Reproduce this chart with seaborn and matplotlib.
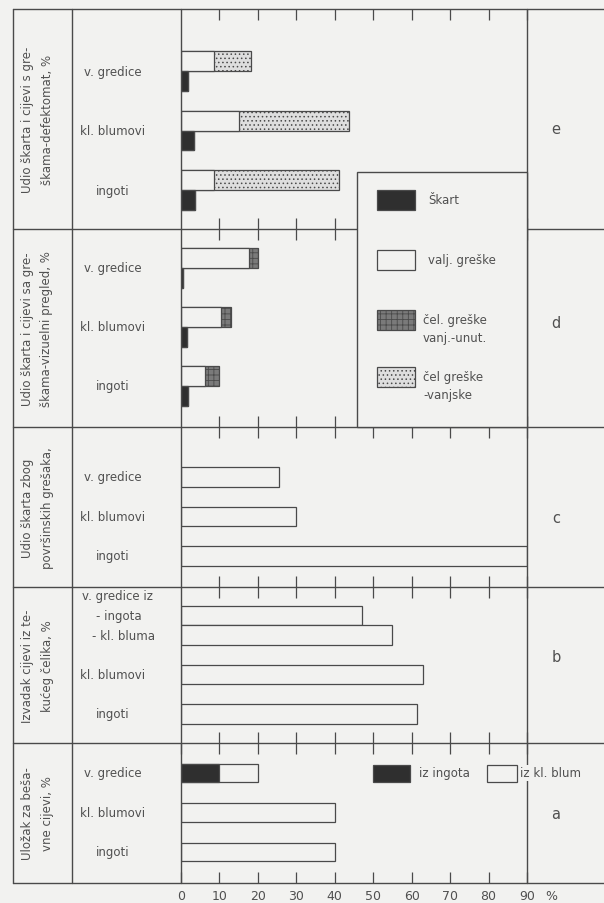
import matplotlib
matplotlib.use("Agg")
import matplotlib.pyplot as plt
import matplotlib.transforms as mtrans
from matplotlib.patches import Rectangle
import pandas as pd
import seaborn as sns

# --- data -----------------------------------------------------------------
cats = ["v. gredice", "kl. blumovi", "ingoti"]

# e) defektomat: valjacke greske + celicanske (vanjske) greske, skart
e_valj = [8.7, 15.0, 8.7]
e_vanjske = [9.5, 28.7, 32.3]
e_skart = [1.9, 3.5, 3.6]

# d) vizuelni pregled: valjacke greske + celicanske (vanj.-unut.), skart
d_valj = [17.6, 10.4, 6.3]
d_unut = [2.5, 2.6, 3.7]
d_skart = [0.6, 1.5, 1.7]

# c) skart zbog povrsinskih gresaka
c_skart = [25.5, 30.0, 90.0]

# b) izvadak cijevi iz tekuceg celika
b_labels = ["v. gredice iz ingota", "v. gredice iz kl. bluma", "kl. blumovi", "ingoti"]
b_izvadak = [47.0, 55.0, 63.0, 61.5]

# a) ulozak za besavne cijevi
a_ulozak = [20.0, 40.0, 40.0]
a_iz_ingota = [10.0]          # samo v. gredice

x_ticks = list(range(0, 100, 10))

# --- style ----------------------------------------------------------------
sns.set_style("white")
plt.rcParams["font.family"] = ["DejaVu Sans"]
plt.rcParams["hatch.linewidth"] = 0.6

BG = "#f2f2f0"
LINE = "#4a4a4a"
TXT = "#505050"
DARK = "#2f2f2f"
GRID_FACE = "#7a7a7a"
DOT_FACE = "#dedede"
FS = 8.5

W, H = 604, 904
X0, X_LBL, X_PLOT, X_END = 13, 72, 181, 527
bounds = [10, 230, 428, 588, 744, 884]

fig = plt.figure(figsize=(W / 100, H / 100), dpi=100, facecolor=BG)


def panel_ax(top, bottom):
    ax = fig.add_axes([X_PLOT / W, 1 - bottom / H, (X_END - X_PLOT) / W, (bottom - top) / H])
    return ax


def finish(ax, top, bottom, first, step, labels=False):
    ax.set_ylim((bottom - first) / step, (top - first) / step)
    ax.set_xlim(0, 90)
    ax.set_facecolor("none")
    ax.set_xlabel("")
    ax.set_ylabel("")
    ax.set_yticks([])
    for s in ax.spines.values():
        s.set_visible(False)
    ax.set_xticks(x_ticks if labels else x_ticks[1:])
    ax.tick_params(axis="x", direction="in", top=True, bottom=True, length=8,
                   width=0.9, color=LINE, labelbottom=labels, labelsize=9,
                   labelcolor=TXT, pad=4)


def stacked_pair(ax, base, extra, skart, face, hatch):
    total = [b + x for b, x in zip(base, extra)]
    kind = ["greske"] * 3 + ["skart"] * 3
    kw = dict(y="kat", x="udio", hue="vrsta", order=cats, hue_order=["greske", "skart"],
              orient="h", width=0.667, saturation=1, errorbar=None, legend=False,
              edgecolor=LINE, linewidth=0.9, ax=ax)
    df = pd.DataFrame({"kat": cats * 2, "vrsta": kind, "udio": total + skart})
    sns.barplot(data=df, palette={"greske": face, "skart": DARK}, **kw)
    for bar in ax.containers[0]:
        bar.set_hatch(hatch)
    # white part (valjacke greske) drawn over the start of the stacked bar
    df_b = pd.DataFrame({"kat": cats * 2, "vrsta": kind, "udio": base + skart})
    sns.barplot(data=df_b, palette={"greske": BG, "skart": DARK}, **kw)


# e
ax_e = panel_ax(10, 230)
stacked_pair(ax_e, e_valj, e_vanjske, e_skart, DOT_FACE, "....")
finish(ax_e, 10, 230, 72, 59.5)

# d
ax_d = panel_ax(230, 428)
stacked_pair(ax_d, d_valj, d_unut, d_skart, GRID_FACE, "+++")
finish(ax_d, 230, 428, 269, 59)

# c
ax_c = panel_ax(428, 588)
sns.barplot(x=c_skart, y=cats, order=cats, orient="h", color=BG, saturation=1,
            width=0.5, errorbar=None, edgecolor=LINE, linewidth=0.9, ax=ax_c)
finish(ax_c, 428, 588, 478, 39.5)

# b
ax_b = panel_ax(588, 744)
b_rows = [0, 1, 3, 5]
ax_b.barh(b_rows, b_izvadak, height=1.0, color=BG, edgecolor=LINE, linewidth=0.9)
finish(ax_b, 588, 744, 616.5, 19.7)

# a
ax_a = panel_ax(744, 884)
sns.barplot(x=a_ulozak, y=cats, order=cats, orient="h", color=BG, saturation=1,
            width=0.48, errorbar=None, edgecolor=LINE, linewidth=0.9, ax=ax_a)
sns.barplot(x=a_iz_ingota, y=cats[:1], order=cats, orient="h", color=DARK, saturation=1,
            width=0.48, errorbar=None, edgecolor=LINE, linewidth=0.9, ax=ax_a)
finish(ax_a, 744, 884, 774, 39.5, labels=True)

# --- overlay: frame, labels, legends --------------------------------------
ov = fig.add_axes([0, 0, 1, 1])
ov.set_xlim(0, W)
ov.set_ylim(H, 0)
ov.axis("off")
ov.patch.set_alpha(0)

for y in bounds:
    ov.plot([X0, W], [y, y], color=LINE, lw=1.0, zorder=2)
for x in [X0, X_LBL, X_PLOT, X_END]:
    ov.plot([x, x], [bounds[0], bounds[-1]], color=LINE, lw=1.0, zorder=2)

side = [
    ("Udio škarta i cijevi s gre-", "škama-defektomat, %", "e", 130),
    ("Udio škarta i cijevi sa gre-", "škama-vizuelni pregled, %", "d", 324),
    ("Udio škarta zbog", "površinskih grešaka,", "c", 519),
    ("Izvadak cijevi iz te-", "kućeg čelika, %", "b", 658),
    ("Uložak za beša-", "vne cijevi, %", "a", 815),
]
for (l1, l2, letter, ly), top, bot in zip(side, bounds[:-1], bounds[1:]):
    mid = (top + bot) / 2
    ov.text(28, mid, l1, rotation=90, ha="center", va="center", fontsize=FS, color=TXT)
    ov.text(47, mid, l2, rotation=90, ha="center", va="center", fontsize=FS, color=TXT)
    ov.text(556, ly, letter, ha="center", va="center", fontsize=10.5, color=TXT)

# category labels in the second column, tied to each panel's rows
for ax in [ax_e, ax_d, ax_c, ax_a]:
    tr = mtrans.blended_transform_factory(ov.transData, ax.transData)
    for i, name in enumerate(cats):
        ov.text(113, i, name, transform=tr, ha="center", va="center", fontsize=FS, color=TXT)

tr_b = mtrans.blended_transform_factory(ov.transData, ax_b.transData)
ov.text(118, -1, "v. gredice iz", transform=tr_b, ha="center", va="center", fontsize=FS, color=TXT)
ov.text(96, 0, "- ingota", transform=tr_b, ha="left", va="center", fontsize=FS, color=TXT)
ov.text(92, 1, "- kl. bluma", transform=tr_b, ha="left", va="center", fontsize=FS, color=TXT)
ov.text(113, 3, "kl. blumovi", transform=tr_b, ha="center", va="center", fontsize=FS, color=TXT)
ov.text(113, 5, "ingoti", transform=tr_b, ha="center", va="center", fontsize=FS, color=TXT)

ov.text(551, 897, "%", ha="center", va="center", fontsize=9, color=TXT)

# legend for e / d
ov.add_patch(Rectangle((357, 173), X_END - 357, 428 - 173, facecolor=BG,
                       edgecolor=LINE, lw=1.0, zorder=5))
leg = [
    (191, DARK, None, ["Škart"], 428),
    (251, BG, None, ["valj. greške"], 428),
    (311, GRID_FACE, "+++", ["čel. greške", "vanj.-unut."], 423),
    (368, DOT_FACE, "....", ["čel greške", "-vanjske"], 423),
]
for y, face, hatch, lines, tx in leg:
    ov.add_patch(Rectangle((377, y), 38, 20, facecolor=face, edgecolor=LINE,
                           lw=0.9, hatch=hatch, zorder=6))
    for k, s in enumerate(lines):
        ov.text(tx, y + 10 + 18 * k, s, ha="left", va="center", fontsize=FS,
                color=TXT, zorder=7)

# legend for a
ov.add_patch(Rectangle((373, 766), 37, 17, facecolor=DARK, edgecolor=LINE, lw=0.9, zorder=6))
ov.text(419, 774, "iz ingota", ha="left", va="center", fontsize=FS, color=TXT, zorder=7)
ov.add_patch(Rectangle((487, 766), 30, 17, facecolor=BG, edgecolor=LINE, lw=0.9, zorder=6))
ov.text(520, 774, "iz kl. blum", ha="left", va="center", fontsize=FS, color=TXT, zorder=7,
        bbox=dict(facecolor=BG, edgecolor="none", pad=1))

fig.savefig("out.png", dpi=100, facecolor=BG)
